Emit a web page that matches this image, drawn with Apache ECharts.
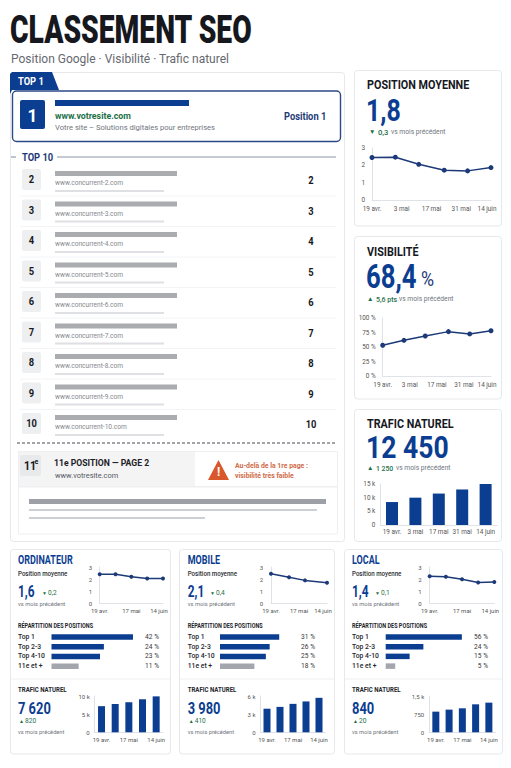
<!DOCTYPE html>
<html>
<head>
<meta charset="utf-8">
<title>Classement SEO</title>
<script src="https://cdn.jsdelivr.net/npm/echarts@6/dist/echarts.min.js"></script>
<style>
html,body{margin:0;padding:0;background:#fff}
#main{width:511px;height:768px}
</style>
</head>
<body>
<div id="main"></div>
<script>
// tick labels
var dateTicks = ['19 avr.', '3 mai', '17 mai', '31 mai', '14 juin'];
var miniTicks = ['19 avr.', '17 mai', '14 juin'];
var barDates = ['19 avr.', '3 mai', '17 mai', '31 mai', '14 juin'];
var shareNames = ['Top 1', 'Top 2-3', 'Top 4-10', '11e et +'];

// top right cards
var positionDays = [0, 11, 22, 34, 45, 56];
var positionValues = [2.45, 2.47, 2.06, 1.72, 1.68, 1.87];
var visibilityDays = [0, 11, 22, 34, 45, 56];
var visibilityValues = [53, 61.5, 69, 76.5, 72.5, 78];
var trafficValues = [8400, 10000, 11500, 13000, 15000];

// ordinateur
var desktopDays = [0, 14, 28, 42, 56];
var desktopPosition = [2.4, 2.4, 2.2, 2.05, 2.05];
var desktopShare = [42, 27, 25, 14];
var desktopShareLabels = ['42 %', '24 %', '23 %', '11 %'];
var desktopTraffic = [7200, 7800, 8300, 9100, 9900];

// mobile
var mobileDays = [0, 18, 34, 56];
var mobilePosition = [2.45, 2.15, 1.9, 1.7];
var mobileShare = [31, 26, 24, 18];
var mobileShareLabels = ['31 %', '26 %', '25 %', '18 %'];
var mobileTraffic = [3900, 4200, 4700, 5100, 5700];

// local
var localDays = [0, 14, 28, 42, 56];
var localPosition = [2.24, 2.2, 2.0, 1.72, 1.77];
var localShare = [56, 27.7, 17.6, 7];
var localShareLabels = ['56 %', '24 %', '15 %', '5 %'];
var localTraffic = [853, 936, 991, 1156, 1225];

// concurrents
var rivalRanks = [2, 3, 4, 5, 6, 7, 8, 9, 10];

var BLUE = '#0b3d91', NAVY = '#1c3a78', DARK = '#16181d', GREEN = '#1d7048', GRAY = '#70757d', AXIS = '#dfe2e7';
var FONT = 'Roboto';

var shapes = [], grids = [], xAxes = [], yAxes = [], series = [];

function txt(x, y, s, size, color, weight, scaleX, align){
	shapes.push({
		type: 'text', x: x, y: y, z: 5, scaleX: scaleX || 1,
		style: {text: s, fontSize: size, fontFamily: FONT, fontWeight: weight || 400, fill: color,
			textAlign: align || 'left', textVerticalAlign: 'middle'}
	});
}
function box(x, y, w, h, fill, stroke, r, lw){
	shapes.push({
		type: 'rect', z: -2, shape: {x: x, y: y, width: w, height: h, r: r || 0},
		style: {fill: fill, stroke: stroke || null, lineWidth: lw || 1}
	});
}
function line(x1, y1, x2, y2, color, lw, dash){
	shapes.push({
		type: 'line', z: -1, shape: {x1: x1, y1: y1, x2: x2, y2: y2},
		style: {stroke: color, lineWidth: lw || 1, lineDash: dash || null}
	});
}
function poly(points, fill){
	shapes.push({type: 'polygon', z: -1, shape: {points: points}, style: {fill: fill}});
}

function lineChart(days, values, ticks, step, yMax, yStep, rect, fmt, yOffset, size, margin){
	var i = grids.length, yIndex = yAxes.length;
	grids.push({left: rect[0], top: rect[1], width: rect[2], height: rect[3]});
	xAxes.push({
		gridIndex: i, type: 'value', min: 0, max: 56, interval: step,
		splitLine: {show: false}, axisTick: {show: false},
		axisLine: {show: true, onZero: false, lineStyle: {color: AXIS}},
		axisLabel: {fontSize: size, fontFamily: FONT, color: '#555', margin: margin,
			// le dernier libelle reste dans la carte
			rich: {end: {fontSize: size, fontFamily: FONT, color: '#555', padding: [0, 8, 0, 0]}},
			formatter: function(v){
				var label = ticks[v / step];
				return v == 56 ? '{end|' + label + '}' : label;
			}}
	});
	yAxes.push({
		gridIndex: i, type: 'value', min: 0, max: yMax, interval: yStep, offset: yOffset,
		splitLine: {show: false}, axisTick: {show: false},
		axisLine: {show: true, lineStyle: {color: AXIS}},
		axisLabel: {fontSize: size, fontFamily: FONT, color: '#555', margin: 5, formatter: fmt}
	});
	series.push({
		type: 'line', xAxisIndex: i, yAxisIndex: yIndex, symbol: 'circle', symbolSize: size > 6.2 ? 5 : 4,
		lineStyle: {color: NAVY, width: 1.5}, itemStyle: {color: NAVY},
		data: days.map(function(d, k){ return [d, values[k]]; })
	});
}

function barChart(values, ticks, yMax, yStep, rect, fmt, barWidth, size, labelStep){
	var i = grids.length, yIndex = yAxes.length;
	grids.push({left: rect[0], top: rect[1], width: rect[2], height: rect[3]});
	xAxes.push({
		gridIndex: i, type: 'category', data: ticks,
		axisTick: {show: false}, axisLine: {lineStyle: {color: AXIS}},
		axisLabel: {fontSize: size, fontFamily: FONT, color: '#555', margin: 4, interval: labelStep}
	});
	yAxes.push({
		gridIndex: i, type: 'value', min: 0, max: yMax, interval: yStep,
		splitLine: {show: false}, axisTick: {show: false},
		axisLine: {show: true, lineStyle: {color: AXIS}},
		axisLabel: {fontSize: size, fontFamily: FONT, color: '#555', margin: 5, formatter: fmt}
	});
	series.push({
		type: 'bar', xAxisIndex: i, yAxisIndex: yIndex, barWidth: barWidth,
		itemStyle: {color: BLUE}, data: values
	});
}

function shareChart(values, labels, textX, start, unit, endX, percentX){
	var i = grids.length, leftAxis = yAxes.length;
	var width = endX - start;
	grids.push({left: start, top: 632, width: width, height: 39});
	xAxes.push({gridIndex: i, type: 'value', min: 0, max: width / unit, show: false});
	yAxes.push({
		gridIndex: i, type: 'category', inverse: true, data: shareNames,
		axisLine: {show: false}, axisTick: {show: false},
		axisLabel: {align: 'left', margin: start - textX, fontSize: 6.8, fontWeight: 500, fontFamily: FONT, color: '#23262b'}
	});
	yAxes.push({
		gridIndex: i, type: 'category', inverse: true, position: 'right', data: labels,
		axisLine: {show: false}, axisTick: {show: false},
		axisLabel: {align: 'right', margin: percentX - endX, fontSize: 6.6, fontFamily: FONT, color: '#33363b'}
	});
	series.push({
		type: 'bar', xAxisIndex: i, yAxisIndex: leftAxis, barWidth: 5.5,
		data: values.map(function(v, k){
			return {value: v, itemStyle: {color: k == 3 ? '#a3a6ad' : BLUE}};
		})
	});
}

function pos(v){ return v; }
function pct(v){ return v + ' %'; }
function kilo(v){ return v == 0 ? '0' : (v / 1000 + ' k').replace('.', ','); }

// ---- en-tete
txt(10, 29, 'CLASSEMENT SEO', 39, DARK, 900, 0.725);
txt(11, 58, 'Position Google · Visibilité · Trafic naturel', 13.2, '#66696f', 400, 0.91);

// ---- carte classement
box(10.5, 72.5, 334, 469, '#fff', '#e6e8eb', 3);
box(12.5, 91, 328, 50.5, '#fff', '#2b4a86', 4, 1.4);
poly([[10, 94], [10, 74], [12, 72], [52, 72], [59, 90], [12, 90]], BLUE);
txt(18, 81.5, 'TOP 1', 11, '#fff', 700, 0.85);
box(20, 100, 25, 29, BLUE, null, 2);
txt(32.5, 115, '1', 19, '#fff', 700, 0.9, 'center');
box(55, 100, 134, 6, BLUE);
txt(55, 115.5, 'www.votresite.com', 8.8, GREEN, 700);
txt(55, 127.5, 'Votre site – Solutions digitales pour entreprises', 7.6, GRAY);
txt(284, 116.5, 'Position 1', 11, NAVY, 700, 0.85);

line(11, 157, 16, 157, '#7f8aa0');
txt(22, 157, 'TOP 10', 11, NAVY, 700, 0.85);
line(57, 157, 336, 157, '#8a94a8');

rivalRanks.forEach(function(rank, k){
	var y = 169 + k * 30.5;
	box(22, y, 19, 21, '#eeeff1', null, 2);
	txt(31.5, y + 10.5, String(rank), 11, DARK, 700, 0.85, 'center');
	box(55, y + 2, 122, 5, '#aaacb0');
	txt(55, y + 14, 'www.concurrent-' + rank + '.com', 6.6, '#85888d');
	box(55, y + 21, 109, 2, '#dfe0e3');
	txt(311, y + 11.5, String(rank), 11, DARK, 700, 0.85, 'center');
	if (k < 8) line(20, y + 27, 336, y + 27, '#f3f4f6');
});

line(17, 443, 337, 443, '#45484e', 1, [3, 2]);
box(18, 451, 177, 35, '#f4f4f5');
box(18.5, 451.5, 319, 35, 'transparent', '#eeeff1');
box(20, 455, 21, 21, '#e8e9eb', null, 2);
txt(24, 466, '11', 12.5, DARK, 700, 0.85);
txt(34.5, 462, 'e', 7, DARK, 700);
txt(54, 463, '11e POSITION — PAGE 2', 9.6, '#1d2025', 700, 0.9);
txt(55, 475.5, 'www.votresite.com', 7.4, '#55585e');
poly([[208, 480], [218.5, 460], [229, 480]], '#d9582b');
txt(218.5, 472, '!', 12, '#fff', 700, 1, 'center');
txt(235, 465, 'Au-delà de la 1re page :', 7.4, '#cf6a47', 700, 0.93);
txt(235, 475.5, 'visibilité très faible', 7.4, '#cf6a47', 700, 0.93);
box(18.5, 487, 319, 47, '#fff', '#eeeff1');
box(29, 499, 297, 5, '#9da1a7');
box(29, 509, 288, 2, '#cdd0d4');
box(29, 517, 176, 2, '#cdd0d4');

// ---- cartes de droite
box(354.5, 70.5, 147, 155.5, '#fff', '#e6e8eb', 3);
txt(367, 85, 'POSITION MOYENNE', 13, DARK, 700, 0.83);
txt(366, 110, '1,8', 32, BLUE, 700, 0.78);
txt(369, 132, '▼', 6.5, GREEN);
txt(378, 132, '0,3', 7.6, GREEN, 500);
txt(391, 132, 'vs mois précédent', 6.7, GRAY);
lineChart(positionDays, positionValues, dateTicks, 14, 3, 1, [372, 148, 119, 52], pos, 2, 6.4, 6);

box(354.5, 236.5, 147, 162.5, '#fff', '#e6e8eb', 3);
txt(367, 252, 'VISIBILITÉ', 13, DARK, 700, 0.83);
txt(366, 277, '68,4', 33, BLUE, 700, 0.78);
txt(421, 279, '%', 21, NAVY, 400, 0.85);
txt(367, 299, '▲', 6.5, GREEN);
txt(376, 299, '5,6 pts', 7.6, GREEN, 500, 0.92);
txt(399, 299, 'vs mois précédent', 6.7, GRAY);
lineChart(visibilityDays, visibilityValues, dateTicks, 14, 100, 25, [382.7, 318, 108.3, 58], pct, 2, 6.4, 6);

box(354.5, 409.5, 147, 132, '#fff', '#e6e8eb', 3);
txt(367, 424, 'TRAFIC NATUREL', 13, DARK, 700, 0.83);
txt(366, 447, '12 450', 32, BLUE, 700, 0.83);
txt(367, 468, '▲', 6.5, GREEN);
txt(376, 468, '1 250', 7.6, GREEN, 500, 0.9);
txt(396, 468, 'vs mois précédent', 6.7, GRAY);
barChart(trafficValues, barDates, 15000, 5000, [380.3, 484, 117, 41], kilo, 12, 6.4, 0);

// ---- cartes du bas
function segmentCard(c){
	var x = c.textX;
	box(c.left + 0.5, 549.5, c.width, 204.5, '#fff', '#e6e8eb', 3);
	line(c.left + 1, 679, c.left + c.width, 679, '#eeeff1');
	txt(x, 560, c.title, 12, BLUE, 700, 0.75);
	txt(x, 574, 'Position moyenne', 7, '#2a2d32', 500, 0.88);
	txt(x, 591, c.position, 17, BLUE, 700, 0.7);
	txt(c.deltaX, 593, '▼', 5, GREEN);
	txt(c.deltaX + 6, 593, c.positionDelta, 6.6, GREEN);
	txt(x, 604, 'vs mois précédent', 5.8, GRAY);
	lineChart(c.days, c.line, miniTicks, 28, 3, 1, c.lineRect, pos, c.lineOffset, 6, 4);
	txt(x, 625, 'RÉPARTITION DES POSITIONS', 6.6, '#23262b', 700, 0.83);
	shareChart(c.share, c.shareLabels, x, c.shareStart, c.shareUnit, c.shareEnd, c.percentX);
	txt(x, 690, 'TRAFIC NATUREL', 6.6, '#23262b', 700, 0.92);
	txt(x, 708, c.traffic, 17, BLUE, 700, 0.76);
	txt(x + 1, 721, '▲', 5, GREEN);
	txt(x + 7, 721, c.trafficDelta, 6.6, GREEN);
	txt(x, 732, 'vs mois précédent', 5.7, GRAY);
	barChart(c.bars, barDates, c.barMax, c.barStep, c.barRect, c.barFmt, 7, 6, 1);
}

segmentCard({
	left: 10, width: 160, textX: 18, deltaX: 42, title: 'ORDINATEUR', position: '1,6', positionDelta: '0,2',
	days: desktopDays, line: desktopPosition, lineRect: [99.7, 567, 63.3, 36.5], lineOffset: 2.5,
	share: desktopShare, shareLabels: desktopShareLabels, shareStart: 51.5, shareUnit: 1.94, shareEnd: 135, percentX: 159,
	traffic: '7 620', trafficDelta: '820', bars: desktopTraffic, barMax: 10000, barStep: 5000,
	barRect: [94.7, 696, 68.3, 36.3], barFmt: kilo
});
segmentCard({
	left: 179, width: 155, textX: 187.7, deltaX: 210, title: 'MOBILE', position: '2,1', positionDelta: '0,4',
	days: mobileDays, line: mobilePosition, lineRect: [271, 567, 56, 36.5], lineOffset: 3,
	share: mobileShare, shareLabels: mobileShareLabels, shareStart: 220, shareUnit: 1.91, shareEnd: 285, percentX: 315,
	traffic: '3 980', trafficDelta: '410', bars: mobileTraffic, barMax: 6000, barStep: 3000,
	barRect: [260.5, 696, 65, 36.3], barFmt: kilo
});
segmentCard({
	left: 344, width: 158, textX: 352, deltaX: 375, title: 'LOCAL', position: '1,4', positionDelta: '0,1',
	days: localDays, line: localPosition, lineRect: [429.7, 567, 64.6, 36.5], lineOffset: 3,
	share: localShare, shareLabels: localShareLabels, shareStart: 385.7, shareUnit: 1.36, shareEnd: 462, percentX: 488,
	traffic: '840', trafficDelta: '20', bars: localTraffic, barMax: 1500, barStep: 750,
	barRect: [429.2, 696, 66.3, 36.3], barFmt: function(v){ return v == 1500 ? '1,5 k' : String(v); }
});

var chart = echarts.init(document.getElementById('main'), null, {renderer: 'svg'});
chart.setOption({
	animation: false,
	backgroundColor: '#fff',
	graphic: {elements: shapes},
	grid: grids,
	xAxis: xAxes,
	yAxis: yAxes,
	series: series
});
</script>
</body>
</html>
